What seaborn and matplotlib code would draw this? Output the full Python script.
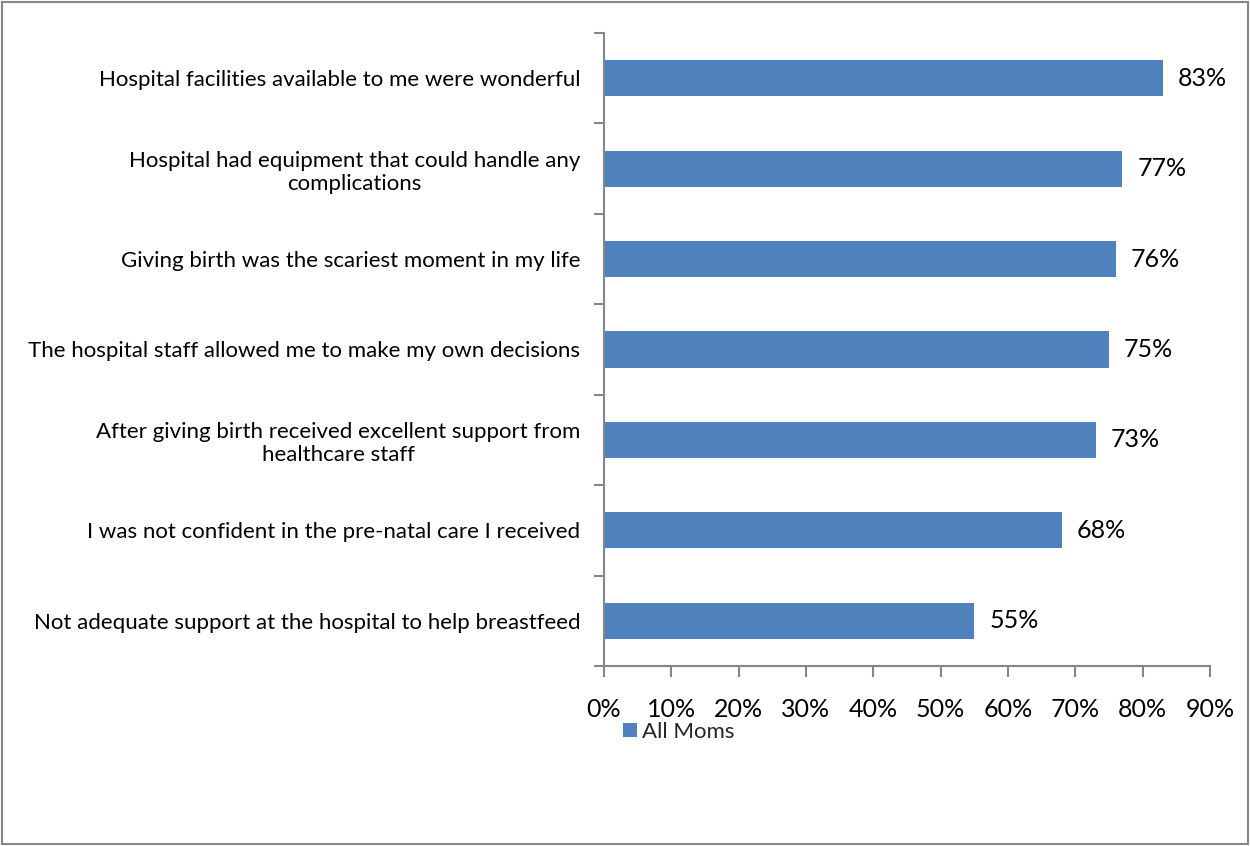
import matplotlib
matplotlib.use("Agg")
import matplotlib.pyplot as plt
from matplotlib.patches import Rectangle
from matplotlib.ticker import MultipleLocator, FuncFormatter
import seaborn as sns
import pandas as pd

statements = [
    "Hospital facilities available to me were wonderful",
    "Hospital had equipment that could handle any\ncomplications",
    "Giving birth was the scariest moment in my life",
    "The hospital staff allowed me to make my own decisions",
    "After giving birth received excellent support from\nhealthcare staff",
    "I was not confident in the pre-natal care I received",
    "Not adequate support at the hospital to help breastfeed",
]
all_moms = [0.83, 0.77, 0.76, 0.75, 0.73, 0.68, 0.55]
series_name = "All Moms"

BAR = "#4F81BD"
AXIS = "#868686"

sns.set_theme(style="white")
plt.rcParams["font.family"] = ["Lato", "DejaVu Sans"]

df = pd.DataFrame({"statement": statements, "share": all_moms})

fig = plt.figure(figsize=(12.5, 8.46), dpi=100)
ax = fig.add_axes([0.4832, 0.2128, 0.968 - 0.4832, 0.961 - 0.2128])

sns.barplot(data=df, y="statement", x="share", order=statements,
            color=BAR, saturation=1, width=0.4, orient="h", ax=ax)
for p in ax.patches:
    p.set_edgecolor("none")

ax.set_xlim(0, 0.9)
ax.set_ylim(len(statements) - 0.5, -0.5)
ax.xaxis.set_major_locator(MultipleLocator(0.1))
ax.xaxis.set_major_formatter(FuncFormatter(lambda v, _: f"{v * 100:.0f}%"))
ax.set_xlabel("")
ax.set_ylabel("")

# category labels sit between the tick marks, which fall on category boundaries
ax.set_yticks(range(len(statements)))
ax.set_yticklabels(statements, fontsize=16, color="black", ha="right",
                   multialignment="center")
ax.set_yticks([i - 0.5 for i in range(len(statements) + 1)], minor=True)
ax.tick_params(axis="y", which="major", length=0, pad=17)
ax.tick_params(axis="y", which="minor", length=7, width=1.5, color=AXIS,
               direction="out", left=True)
ax.tick_params(axis="x", which="major", length=8, width=1.5, color=AXIS,
               direction="out", bottom=True, labelsize=18, pad=15,
               labelcolor="black")

for side in ["top", "right"]:
    ax.spines[side].set_visible(False)
for side in ["left", "bottom"]:
    ax.spines[side].set_color(AXIS)
    ax.spines[side].set_linewidth(1.5)

for i, v in enumerate(all_moms):
    ax.text(v + 0.022, i, f"{v * 100:.0f}%", va="center", ha="left",
            fontsize=18, color="black")

handle = Rectangle((0, 0), 1, 1, facecolor=BAR, edgecolor="none")
fig.legend([handle], [series_name], loc="center left",
           bbox_to_anchor=(0.498, 0.135), frameon=False, fontsize=16,
           handlelength=0.65, handleheight=0.65, handletextpad=0.25,
           borderpad=0, borderaxespad=0)

# outer chart border
fig.patches.append(Rectangle((0.0016, 0.0024), 0.9968, 0.9952,
                             transform=fig.transFigure, fill=False,
                             edgecolor=AXIS, linewidth=1.5))

fig.savefig("out.png", dpi=100, facecolor="white")
